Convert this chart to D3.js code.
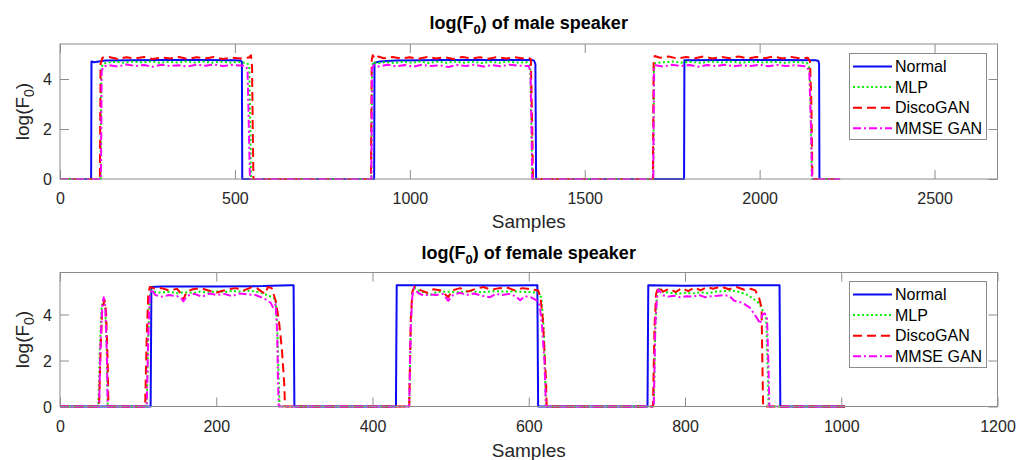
<!DOCTYPE html>
<html>
<head>
<meta charset="utf-8">
<script src="https://cdn.jsdelivr.net/npm/d3@7"></script>
<style>
	body { margin: 0; background: #fff; }
	text { font-family: "Liberation Sans", Arial, sans-serif; }
</style>
</head>
<body>
<svg class="f0Figure"></svg>
<script>
"use strict";

// ------------------------------------------------ //
// Data: [sample, log(F0)] ---- //
// ------------------------------------------------ //
var seriesNames = ["Normal", "MLP", "DiscoGAN", "MMSE GAN"];
var maleXTicks = [0, 500, 1000, 1500, 2000, 2500];
var femaleXTicks = [0, 200, 400, 600, 800, 1000, 1200];
var yTicks = [0, 2, 4];

var maleNormal = [[0,0],[89,0],[90,4.7],[98,4.67],[106,4.69],[130,4.74],[200,4.75],[300,4.76],[400,4.76],[500,4.75],[516,4.74],[520,4.68],[521,0],
	[898,0],[899,4.65],[915,4.7],[960,4.74],[1100,4.76],[1250,4.76],[1345,4.76],[1355,4.74],[1359,4.6],[1361,0],
	[1784,0],[1785,4.75],[1900,4.76],[2050,4.76],[2160,4.75],[2168,4.72],[2170,4.6],[2171,0],[2230,0]];

var maleMLP = [[0,0],[116,0],[118,4.4],[122,4.6],[135,4.66],[160,4.69],[185,4.65],[210,4.7],[235,4.66],[260,4.7],[285,4.65],[310,4.69],[335,4.66],[360,4.7],[385,4.66],[410,4.7],[435,4.65],[460,4.69],[485,4.66],[510,4.68],[535,4.64],[541,4.5],[544,2],[546,0],
	[890,0],[892,4.5],[896,4.7],[905,4.62],[930,4.68],[955,4.64],[980,4.69],[1005,4.65],[1030,4.7],[1055,4.64],[1080,4.69],[1105,4.65],[1130,4.7],[1155,4.65],[1180,4.69],[1205,4.64],[1230,4.68],[1255,4.65],[1280,4.7],[1305,4.66],[1335,4.67],[1344,4.55],[1348,2],[1350,0],
	[1696,0],[1698,4.55],[1702,4.64],[1725,4.67],[1750,4.7],[1775,4.65],[1800,4.69],[1830,4.65],[1860,4.7],[1890,4.66],[1920,4.69],[1950,4.65],[1980,4.7],[2010,4.66],[2040,4.69],[2070,4.65],[2100,4.68],[2135,4.64],[2143,4.4],[2147,2],[2149,0],[2230,0]];

var maleDisco = [[0,0],[114,0],[116,4.6],[121,4.85],[140,4.88],[165,4.8],[190,4.87],[215,4.82],[240,4.88],[265,4.8],[290,4.86],[315,4.82],[340,4.88],[365,4.8],[390,4.87],[415,4.82],[440,4.88],[465,4.8],[490,4.86],[515,4.82],[540,4.86],[546,4.95],[549,4.5],[551,2],[553,0],
	[889,0],[891,4.75],[894,4.95],[900,4.8],[910,4.9],[925,4.83],[950,4.88],[975,4.82],[1000,4.87],[1025,4.81],[1050,4.88],[1075,4.82],[1100,4.87],[1125,4.8],[1150,4.88],[1175,4.82],[1200,4.87],[1225,4.81],[1250,4.88],[1275,4.82],[1300,4.87],[1325,4.82],[1340,4.85],[1346,4.8],[1350,2],[1352,0],
	[1695,0],[1697,4.7],[1700,4.92],[1715,4.85],[1740,4.9],[1765,4.82],[1790,4.88],[1815,4.83],[1840,4.9],[1865,4.82],[1890,4.88],[1915,4.83],[1940,4.9],[1965,4.82],[1990,4.88],[2015,4.83],[2040,4.9],[2065,4.82],[2090,4.88],[2115,4.83],[2138,4.85],[2144,4.7],[2148,3],[2151,0],[2230,0]];

var maleMMSE = [[0,0],[117,0],[119,4.3],[124,4.5],[140,4.55],[165,4.5],[190,4.58],[215,4.52],[240,4.56],[265,4.49],[290,4.57],[315,4.52],[340,4.55],[365,4.5],[390,4.57],[415,4.53],[440,4.58],[465,4.52],[490,4.56],[515,4.54],[530,4.52],[536,4.4],[540,2],[543,0],
	[890,0],[892,4.4],[896,4.55],[910,4.5],[935,4.57],[960,4.51],[985,4.56],[1010,4.49],[1035,4.57],[1060,4.52],[1085,4.55],[1110,4.48],[1135,4.56],[1160,4.52],[1185,4.57],[1210,4.5],[1235,4.55],[1260,4.51],[1285,4.57],[1310,4.53],[1340,4.52],[1345,4.3],[1348,2],[1350,0],
	[1696,0],[1698,4.4],[1702,4.55],[1725,4.5],[1750,4.57],[1775,4.52],[1800,4.56],[1825,4.49],[1850,4.56],[1875,4.52],[1900,4.57],[1925,4.51],[1950,4.55],[1975,4.52],[2000,4.57],[2025,4.51],[2050,4.56],[2075,4.52],[2100,4.55],[2135,4.5],[2142,4.3],[2147,2],[2150,0],[2230,0]];

var femaleNormal = [[0,0],[116,0],[117,5.2],[130,5.22],[200,5.22],[260,5.24],[295,5.28],[299,5.28],[300,0],
	[430,0],[431,5.28],[500,5.27],[560,5.26],[605,5.28],[611,5.28],[612,0],
	[752,0],[753,5.27],[800,5.25],[860,5.27],[910,5.28],[921,5.27],[922,0],[1005,0]];

var femaleMLP = [[0,0],[49,0],[51,2.5],[53,4.2],[56,4.72],[58,4.3],[60,2.2],[61,0],
	[111,0],[113,3.2],[115,4.8],[117,5.05],[122,4.98],[130,4.95],[140,4.99],[150,4.93],[160,4.97],[170,4.94],[180,5.0],[190,4.95],[200,5.02],[210,4.97],[220,5.03],[230,5.0],[240,5.05],[250,5.0],[258,4.95],[265,4.85],[272,4.75],[276,4.65],[278,3.5],[280,1.2],[281,0],
	[447,0],[449,3.5],[451,4.9],[453,5.2],[458,5.05],[465,4.98],[474,4.85],[482,4.98],[495,5.0],[510,4.97],[525,5.03],[540,4.97],[555,5.02],[570,5.0],[585,5.0],[600,4.98],[612,4.95],[616,4.75],[619,3.5],[621,1.5],[622,0],
	[760,0],[762,3.5],[764,4.8],[766,5.15],[772,4.98],[780,4.95],[790,4.9],[800,4.95],[810,4.92],[820,4.97],[830,4.93],[840,5.0],[850,5.02],[860,5.05],[870,4.98],[880,4.85],[887,4.7],[893,4.55],[898,4.3],[901,4.05],[904,3.8],[906,1.5],[907,0],[1005,0]];

var femaleDisco = [[0,0],[50,0],[52,2.5],[54,4.2],[57,4.65],[59,4.1],[61,2],[62,0],
	[109,0],[111,3],[113,4.9],[115,5.2],[122,5.12],[130,5.15],[140,5.05],[150,5.12],[155,4.9],[158,4.65],[162,5.0],[170,5.1],[180,5.15],[190,5.05],[200,4.95],[205,5.0],[215,5.1],[225,5.15],[235,5.05],[245,5.18],[252,5.15],[258,5.0],[263,4.9],[266,5.2],[271,5.15],[276,4.6],[280,3.8],[284,2.5],[287,1],[288,0],
	[447,0],[449,3.8],[451,5.0],[454,5.22],[462,5.05],[470,4.95],[478,5.1],[488,5.05],[497,4.75],[502,5.05],[512,5.15],[522,5.0],[532,5.12],[542,5.2],[552,5.08],[562,5.15],[572,5.18],[582,5.05],[592,5.15],[602,5.1],[612,5.05],[615,4.75],[618,3.8],[620,2.5],[622,1.2],[623,0],
	[759,0],[761,3.5],[763,4.9],[766,5.2],[772,5.0],[780,5.12],[788,4.98],[796,5.15],[804,5.02],[812,5.18],[820,5.05],[828,5.2],[836,5.12],[846,5.22],[856,5.1],[866,5.2],[876,5.08],[884,5.12],[890,5.05],[895,4.7],[898,4.3],[899,2],[900,0],[1005,0]];

var femaleMMSE = [[0,0],[50,0],[52,2.8],[54,4.4],[56,4.75],[58,4.3],[60,2.3],[61,0],
	[111,0],[113,3],[115,4.8],[117,5.1],[122,4.85],[130,4.78],[140,4.85],[150,4.8],[155,4.7],[158,4.58],[163,4.82],[172,4.9],[182,4.78],[192,4.92],[200,4.85],[210,4.9],[220,4.8],[230,4.92],[240,4.88],[250,4.85],[258,4.75],[264,4.65],[270,4.5],[273,4.28],[276,4.45],[278,3.2],[279,1.2],[280,0],
	[447,0],[449,3.5],[451,4.8],[453,5.15],[458,4.95],[466,4.82],[474,4.88],[482,4.85],[490,4.9],[497,4.6],[503,4.85],[512,4.95],[520,4.85],[530,4.92],[540,4.82],[550,4.75],[558,4.9],[566,4.85],[575,4.9],[583,4.8],[589,4.62],[595,4.8],[603,4.75],[610,4.62],[614,4.4],[617,3.5],[620,2],[622,0],
	[760,0],[762,3.5],[764,4.7],[766,5.1],[771,4.85],[778,4.78],[786,4.82],[794,4.75],[802,4.8],[810,4.78],[818,4.85],[826,4.75],[834,4.8],[842,4.82],[850,4.85],[857,4.8],[863,4.6],[870,4.55],[876,4.45],[883,4.3],[889,4.0],[893,3.8],[896,3.6],[899,4.0],[902,4.05],[905,3.9],[907,1.5],[908,0],[1005,0]];

// Styles for each series (same order as seriesNames)
var seriesColors = ["#0a0af5", "#00f000", "#ff0000", "#ff00ff"];
var seriesDash = [null, "2,2.5", "9,5", "8,3,2,3"];

// ------------------------------------------------ //
// Svg container ---------------------------------- //
// ------------------------------------------------ //
var svg = d3.select(".f0Figure")
	.attr("width", 1016)
	.attr("height", 460);

var axisGrey = "#8c8c8c";
var textGrey = "#262626";
var fmt = d3.format("d");

function drawPanel(p) {
	var x = d3.scaleLinear().domain(p.xDomain).range([p.left, p.right]);
	var y = d3.scaleLinear().domain(p.yDomain).range([p.bottom, p.top]);
	var g = svg.append("g");

	// lines
	var line = d3.line()
		.x(function(d) { return x(d[0]); })
		.y(function(d) { return y(d[1]); });
	p.series.forEach(function(data, i) {
		g.append("path")
			.datum(data)
			.attr("d", line)
			.attr("fill", "none")
			.attr("stroke", seriesColors[i])
			.attr("stroke-width", 2)
			.attr("stroke-linejoin", "round")
			.attr("stroke-dasharray", seriesDash[i]);
	});

	// box
	g.append("rect")
		.attr("x", p.left).attr("y", p.top)
		.attr("width", p.right - p.left).attr("height", p.bottom - p.top)
		.attr("fill", "none").attr("stroke", axisGrey).attr("stroke-width", 1);

	// x axis (ticks inside, bottom + top)
	g.append("g").attr("transform", "translate(0," + p.bottom + ")")
		.call(d3.axisBottom(x).tickValues(p.xTicks).tickSize(-9).tickPadding(14).tickFormat(fmt));
	g.append("g").attr("transform", "translate(0," + p.top + ")")
		.call(d3.axisTop(x).tickValues(p.xTicks).tickSize(-9).tickFormat(""));
	// y axis (left + right)
	var yAxis = g.append("g").attr("transform", "translate(" + p.left + ",0)")
		.call(d3.axisLeft(y).tickValues(yTicks).tickSize(-9).tickPadding(8).tickFormat(fmt));
	g.append("g").attr("transform", "translate(" + p.right + ",0)")
		.call(d3.axisRight(y).tickValues(yTicks).tickSize(-9).tickFormat(""));

	g.selectAll(".domain").remove();
	g.selectAll(".tick line").attr("stroke", axisGrey);
	g.selectAll(".tick text")
		.attr("fill", textGrey)
		.style("font-size", "16px")
		.style("font-family", "'Liberation Sans', Arial, sans-serif");
	yAxis.selectAll(".tick text").attr("dy", "0.35em");

	// title
	var title = g.append("text")
		.attr("x", (p.left + p.right) / 2)
		.attr("y", p.titleY)
		.attr("text-anchor", "middle")
		.attr("fill", "#000")
		.style("font-size", "18px")
		.style("font-weight", "bold");
	title.append("tspan").text("log(F");
	title.append("tspan").attr("dy", 5).style("font-size", "13px").text("0");
	title.append("tspan").attr("dy", -5).text(") of " + p.speaker + " speaker");

	// x label
	g.append("text")
		.attr("x", (p.left + p.right) / 2)
		.attr("y", p.xLabelY)
		.attr("text-anchor", "middle")
		.attr("fill", textGrey)
		.style("font-size", "19px")
		.text("Samples");

	// y label
	var yl = g.append("text")
		.attr("transform", "translate(29," + (p.top + p.bottom) / 2 + ") rotate(-90)")
		.attr("text-anchor", "middle")
		.attr("fill", textGrey)
		.style("font-size", "19px");
	yl.append("tspan").text("log(F");
	yl.append("tspan").attr("dy", 5).style("font-size", "14px").text("0");
	yl.append("tspan").attr("dy", -5).text(")");

	// legend
	var lg = g.append("g");
	lg.append("rect")
		.attr("x", 849.5).attr("y", p.legendTop)
		.attr("width", 137).attr("height", 86)
		.attr("fill", "#fff").attr("stroke", axisGrey).attr("stroke-width", 1);
	seriesNames.forEach(function(name, i) {
		var ly = p.legendTop + 13 + i * 20.6;
		lg.append("line")
			.attr("x1", 853).attr("x2", 892)
			.attr("y1", ly).attr("y2", ly)
			.attr("stroke", seriesColors[i])
			.attr("stroke-width", 2)
			.attr("stroke-dasharray", seriesDash[i]);
		lg.append("text")
			.attr("x", 895).attr("y", ly)
			.attr("dy", "0.35em")
			.attr("fill", "#000")
			.style("font-size", "16px")
			.text(name);
	});
}

drawPanel({
	left: 60, right: 997.5, top: 44, bottom: 179,
	xDomain: [0, 2680], yDomain: [0, 5.4], xTicks: maleXTicks,
	series: [maleNormal, maleMLP, maleDisco, maleMMSE],
	speaker: "male", titleY: 29, xLabelY: 228, legendTop: 53.5
});

drawPanel({
	left: 60, right: 997.5, top: 272.5, bottom: 406.5,
	xDomain: [0, 1200], yDomain: [0, 5.83], xTicks: femaleXTicks,
	series: [femaleNormal, femaleMLP, femaleDisco, femaleMMSE],
	speaker: "female", titleY: 259, xLabelY: 457, legendTop: 281.5
});
</script>
</body>
</html>
